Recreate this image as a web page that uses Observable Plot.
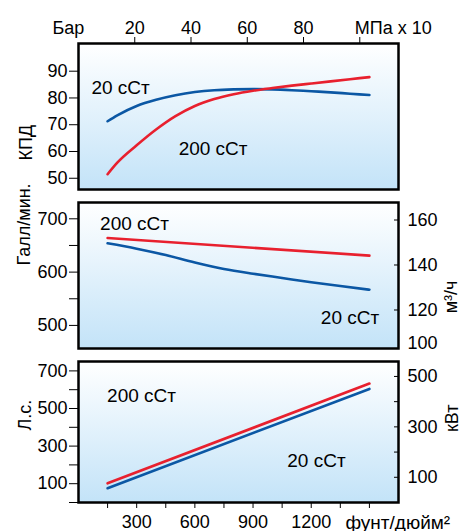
<!DOCTYPE html>
<html><head><meta charset="utf-8">
<script src="https://cdn.jsdelivr.net/npm/d3@7"></script>
<script src="https://cdn.jsdelivr.net/npm/@observablehq/plot@0.6"></script>
<style>
body{margin:0;background:#fff}
#chart{width:462px;height:531px;overflow:hidden}
#chart svg{display:block}
</style>
</head><body><div id="chart"></div>
<script>
// ---- data ----
const seriesNames = ["20 сСт", "200 сСт"];
const effPsi = [150,200,300,400,500,600,700,800,900,1000,1100,1200,1300,1400,1500];
const effBlue = [71.3,73.5,77.0,79.3,81.0,82.2,82.9,83.2,83.3,83.2,82.9,82.5,82.1,81.6,81.1];
const effRed  = [51.5,55.8,62.3,68.2,73.2,77.0,79.6,81.4,82.7,83.7,84.6,85.4,86.2,87.0,87.8];
const flowPsi = [150,300,450,600,750,900,1050,1200,1350,1500];
const flowBlue = [654,644,632,618,606,597,589,581,574,567];
const flowRedPsi = [150,1500];
const flowRed = [664,631];
const powerPsi = [150,1500];
const powerBlue = [76,604];
const powerRed = [102,633];
const barTicks = [20,40,60,80,100];
const psiTicks = [150,300,450,600,750,900,1050,1200,1350,1500];
const psiLabels = [300,600,900,1200];
const effTicks = [50,60,70,80,90];
const gpmTicks = [500,550,600,650,700];
const gpmLabels = [500,600,700];
const m3Ticks = [120,140,160];
const m3Labels = [100,120,140,160];
const hpTicks = [0,100,200,300,400,500,600,700];
const hpLabels = [100,300,500,700];
const kwTicks = [100,200,300,400,500];
const kwLabels = [100,300,500];
// annotation anchors (data space)
const effLabelAt = [{psi:217, v:83.6}, {psi:694, v:60.8}];
const flowLabelAt = [{psi:1400, v:514}, {psi:289, v:690.6}];
const powerLabelAt = [{psi:1227, v:220}, {psi:325, v:566}];

// ---- setup ----
const BAR = 14.5038;          // psi per bar
const KW = 0.7457;            // kW per hp
const m3ToGpm = m => 697.75 - (160 - m) * 4.22;
const W = 462, ML = 78, MR = 64;
const xDomain = [0, 1650];
const font = "'Liberation Sans', Arial, Helvetica, sans-serif";
const RED = "#e8202e", BLUE = "#0b57a4";
const baseStyle = {fontFamily: font, fontSize: "18px", color: "#000", background: "transparent", overflow: "visible"};
const lineOpts = {strokeWidth: 2.6, curve: "monotone-x"};
const pts = (xs, ys) => xs.map((x, i) => ({x, y: ys[i]}));
const labelsData = at => at.map((d, i) => ({...d, t: seriesNames[i]}));

function addGradient(svg, id) {
  const g = d3.select(svg).insert("defs", ":first-child").append("linearGradient")
    .attr("id", id).attr("x1", 0).attr("y1", 0).attr("x2", 0).attr("y2", 1);
  g.append("stop").attr("offset", "0%").attr("stop-color", "#ffffff");
  g.append("stop").attr("offset", "100%").attr("stop-color", "#c3e3f8");
  return svg;
}
const frameFill = id => Plot.frame({fill: `url(#${id})`, stroke: "none"});
const frameStroke = () => Plot.frame({stroke: "#000", strokeWidth: 2.5});

// ---- panel 1: efficiency ----
const p1 = Plot.plot({
  width: W, height: 195, marginLeft: ML, marginRight: MR, marginTop: 43, marginBottom: 6,
  style: baseStyle,
  x: {domain: xDomain},
  y: {domain: [45.8, 100.35]},
  marks: [
    frameFill("bg1"),
    Plot.axisY({anchor: "left", ticks: effTicks, tickSize: 9, tickPadding: 2, fontSize: 18, label: null}),
    Plot.axisX({anchor: "top", ticks: barTicks.map(b => b * BAR), tickFormat: d => { const b = Math.round(d / BAR); return b === 100 ? "" : String(b); }, tickSize: 7, tickPadding: 3, fontSize: 18, label: null}),
    Plot.line(pts(effPsi, effBlue), {x: "x", y: "y", stroke: BLUE, ...lineOpts}),
    Plot.line(pts(effPsi, effRed), {x: "x", y: "y", stroke: RED, ...lineOpts}),
    Plot.text(labelsData(effLabelAt), {x: "psi", y: "v", text: "t", fontSize: 19}),
    Plot.text(["Бар"], {frameAnchor: "top-left", dx: -26, dy: -10, textAnchor: "start", lineAnchor: "bottom", fontSize: 18}),
    Plot.text([{x: barTicks[barTicks.length - 1] * BAR, t: "МПа x 10"}], {x: "x", text: "t", frameAnchor: "top", dx: -5, dy: -10, textAnchor: "start", lineAnchor: "bottom", fontSize: 18}),
    Plot.text(["КПД"], {frameAnchor: "left", dx: -52, dy: 44, rotate: -90, fontSize: 18}),
    frameStroke()
  ]
});
addGradient(p1, "bg1");

// ---- panel 2: flow ----
const p2 = Plot.plot({
  width: W, height: 155, marginLeft: ML, marginRight: MR, marginTop: 7, marginBottom: 2,
  style: baseStyle,
  x: {domain: xDomain, axis: null},
  y: {domain: [456.7, 730.6]},
  marks: [
    frameFill("bg2"),
    Plot.axisY({anchor: "left", ticks: gpmTicks, tickFormat: d => gpmLabels.includes(d) ? String(d) : "", tickSize: 9, tickPadding: 2, fontSize: 18, label: null}),
    Plot.axisY({anchor: "right", ticks: m3Ticks.map(m3ToGpm), text: null, tickSize: 5, dx: -5, label: null}),
    Plot.text(m3Labels, {y: m => Math.max(m3ToGpm(m), 466), text: d => String(d), frameAnchor: "right", dx: 9, textAnchor: "start", fontSize: 18}),
    Plot.line(pts(flowPsi, flowBlue), {x: "x", y: "y", stroke: BLUE, ...lineOpts}),
    Plot.line(pts(flowRedPsi, flowRed), {x: "x", y: "y", stroke: RED, ...lineOpts}),
    Plot.text(labelsData(flowLabelAt), {x: "psi", y: "v", text: "t", fontSize: 19}),
    Plot.text(["Галл/мин."], {frameAnchor: "left", dx: -54, dy: -10, rotate: -90, fontSize: 18}),
    Plot.text(["м³/ч"], {frameAnchor: "right", dx: 53, dy: 5, rotate: -90, fontSize: 18}),
    frameStroke()
  ]
});
addGradient(p2, "bg2");

// ---- panel 3: power ----
const p3 = Plot.plot({
  width: W, height: 181, marginLeft: ML, marginRight: MR, marginTop: 11, marginBottom: 29,
  style: baseStyle,
  x: {domain: xDomain},
  y: {domain: [0, 750]},
  marks: [
    frameFill("bg3"),
    Plot.axisY({anchor: "left", ticks: hpTicks, tickFormat: d => hpLabels.includes(d) ? String(d) : "", tickSize: 9, tickPadding: 2, fontSize: 18, label: null}),
    Plot.axisY({anchor: "right", ticks: kwTicks.map(k => k / KW), text: null, tickSize: 5, dx: -5, label: null}),
    Plot.axisY({anchor: "right", ticks: kwLabels.map(k => k / KW), tickFormat: d => String(Math.round(d * KW)), tickSize: 0, tickPadding: 9, fontSize: 18, label: null}),
    Plot.axisX({anchor: "bottom", ticks: psiTicks, tickFormat: d => psiLabels.includes(d) ? String(d) : "", tickSize: 6, tickPadding: 7, fontSize: 18, label: null}),
    Plot.line(pts(powerPsi, powerBlue), {x: "x", y: "y", stroke: BLUE, ...lineOpts}),
    Plot.line(pts(powerPsi, powerRed), {x: "x", y: "y", stroke: RED, ...lineOpts}),
    Plot.text(labelsData(powerLabelAt), {x: "psi", y: "v", text: "t", fontSize: 19}),
    Plot.text([{x: psiTicks[psiTicks.length - 1], t: "фунт/дюйм²"}], {x: "x", text: "t", frameAnchor: "bottom", dx: -24, dy: 26, textAnchor: "start", lineAnchor: "bottom", fontSize: 19}),
    Plot.text(["Л.с."], {frameAnchor: "left", dx: -53, dy: -1.5, rotate: -90, fontSize: 18}),
    Plot.text(["кВт"], {frameAnchor: "right", dx: 54, dy: -27.5, rotate: -90, fontSize: 18}),
    frameStroke()
  ]
});
addGradient(p3, "bg3");

const c = document.getElementById("chart");
c.append(p1, p2, p3);
</script>
</body></html>
